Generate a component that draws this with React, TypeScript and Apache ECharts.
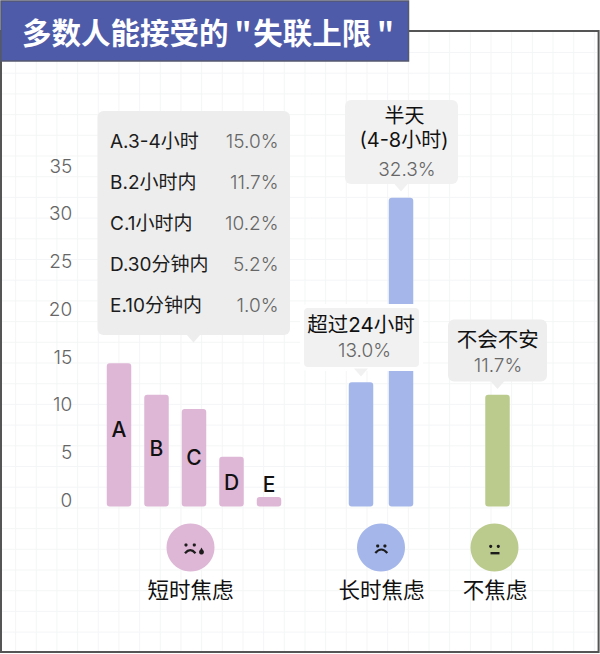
import React, { useEffect, useRef } from "react";
import * as echarts from "echarts";

const shortCategories = ["A", "B", "C", "D", "E"];
const shortValues = [15.0, 11.7, 10.2, 5.2, 1.0];
const longCategories = ["超过24小时", "半天(4-8小时)"];
const longValues = [13.0, 32.3];
const calmCategories = ["不会不安"];
const calmValues = [11.7];
const yTicks = { min: 0, max: 35, step: 5 };
const titleText = '多数人能接受的\u2009"\u200a失联上限\u2009"';
const shortRows = ["A.3-4小时", "B.2小时内", "C.1小时内", "D.30分钟内", "E.10分钟内"];
const shortRowValues = ["15.0%", "11.7%", "10.2%", "5.2%", "1.0%"];
const groupNames = ["短时焦虑", "长时焦虑", "不焦虑"];

const PINK = "#deb7d6";
const BLUE = "#a5b7ea";
const GREEN = "#bbcb8e";
const LATIN = "Inter, 'Noto Sans CJK SC', sans-serif";
const CJK = "'Noto Sans CJK SC', sans-serif";
const THIN = 300;
const GREY = "#666666";

const txt = (text: string, x: number, y: number, size: number, fill: string, align = "center", weight: any = 400, family = LATIN) => ({
  type: "text",
  z: 20,
  style: { text, x, y, align, verticalAlign: "middle", fontSize: size, fontWeight: weight, fontFamily: family, fill },
});

const callout = (x: number, y: number, w: number, h: number, tipX: number, fill: string, halo = 0) => [
  {
    type: "rect",
    z: 10,
    shape: { x, y, width: w, height: h, r: 6 },
    style: { fill, stroke: halo ? "#ffffff" : undefined, lineWidth: halo },
  },
  {
    type: "polygon",
    z: 11,
    shape: { points: [[tipX - 7, y + h - 0.5], [tipX + 7, y + h - 0.5], [tipX, y + h + 7.5]] },
    style: { fill },
  },
];

const paperLines = () => {
  const out: any[] = [];
  for (let i = 0; i < 29; i++) {
    const x = 15.6 + i * 20.67;
    out.push({ type: "line", z: 0, shape: { x1: x, y1: 32, x2: x, y2: 651 }, style: { stroke: "#f4f5f6", lineWidth: 1 } });
  }
  for (let i = 0; i < 29; i++) {
    const y = 52.5 + i * 20.7;
    if (y > 650) break;
    out.push({ type: "line", z: 0, shape: { x1: 2, y1: y, x2: 597, y2: y }, style: { stroke: "#f4f5f6", lineWidth: 1 } });
  }
  return out;
};

const dot = (cx: number, cy: number, r = 1.6) => ({ type: "circle", z: 12, shape: { cx, cy, r }, style: { fill: "#1c1c1c" } });
const frown = (x1: number, x2: number, y1: number, top: number) => ({
  type: "bezierCurve",
  z: 12,
  shape: { x1, y1, x2, y2: y1, cpx1: (x1 + x2) / 2, cpy1: top - (y1 - top) },
  style: { stroke: "#1c1c1c", lineWidth: 2.2, fill: "none" },
});

const faces = () => [
  { type: "circle", z: 5, shape: { cx: 190.5, cy: 547.5, r: 24 }, style: { fill: PINK } },
  { type: "circle", z: 5, shape: { cx: 381, cy: 547.5, r: 24 }, style: { fill: BLUE } },
  { type: "circle", z: 5, shape: { cx: 494.5, cy: 547.5, r: 24 }, style: { fill: GREEN } },
  dot(186, 545), dot(194.3, 545),
  frown(185, 195.5, 553.3, 550.2),
  { type: "circle", z: 12, shape: { cx: 201.5, cy: 552.2, r: 2.4 }, style: { fill: "#1c1c1c" } },
  { type: "polygon", z: 12, shape: { points: [[199.4, 551.5], [203.6, 551.5], [201.5, 547.6]] }, style: { fill: "#1c1c1c" } },
  dot(377.7, 546), dot(384.9, 546),
  frown(375.3, 387.3, 553, 549.5),
  dot(490.7, 546.3), dot(498.3, 546.3),
  { type: "rect", z: 12, shape: { x: 490.5, y: 552, width: 9, height: 2.4 }, style: { fill: "#1c1c1c" } },
];

export default function App() {
  const ref = useRef<HTMLDivElement>(null);
  useEffect(() => {
    const chart = echarts.init(ref.current!, null, { renderer: "svg" });
    const rowYs = [141.5, 182, 223, 264, 305];
    const bar = (name: string, values: number[], color: string, idx: number) => ({
      type: "bar",
      name,
      xAxisIndex: idx,
      yAxisIndex: idx,
      barWidth: 24.5,
      itemStyle: { color, borderRadius: 3 },
      data: values,
      z: 2,
    });
    const letterStyle = { fontSize: 21, fontWeight: 500, fontFamily: LATIN, color: "#111111" };
    const letterOffsets = [-5, -2, 0, 1, 3];
    chart.setOption({
      animation: false,
      backgroundColor: "#ffffff",
      grid: [
        { left: 100.25, width: 187.5, top: 172, height: 334.5 },
        { left: 341, width: 80, top: 172, height: 334.5 },
        { left: 477.5, width: 40, top: 172, height: 334.5 },
      ],
      xAxis: [shortCategories, longCategories, calmCategories].map((data, gridIndex) => ({
        type: "category",
        gridIndex,
        data,
        show: false,
      })),
      yAxis: [0, 1, 2].map((gridIndex) => ({
        type: "value",
        gridIndex,
        min: yTicks.min,
        max: yTicks.max,
        interval: yTicks.step,
        show: gridIndex === 0,
        axisLine: { show: false },
        axisTick: { show: false },
        splitLine: { show: false },
        axisLabel: {
          margin: 28,
          fontSize: 19,
          fontWeight: THIN,
          fontFamily: LATIN,
          color: GREY,
          verticalAlign: "bottom",
          lineHeight: 12,
        },
      })),
      series: [
        {
          ...bar("短时焦虑", [], PINK, 0),
          data: shortValues.map((value, i) => ({
            value,
            label: {
              show: true,
              formatter: shortCategories[i],
              position: value < 2 ? "top" : "inside",
              offset: [0, letterOffsets[i]],
              ...letterStyle,
            },
          })),
        },
        bar("长时焦虑", longValues, BLUE, 1),
        bar("不焦虑", calmValues, GREEN, 2),
      ],
      graphic: [
        ...paperLines(),
        { type: "rect", z: 1, shape: { x: 1, y: 31, width: 597.6, height: 621 }, style: { fill: "none", stroke: "#555555", lineWidth: 2 } },
        { type: "rect", z: 15, shape: { x: 1, y: 1, width: 407.5, height: 60 }, style: { fill: "#4e5ba9", stroke: "#555a70", lineWidth: 1.5 } },
        txt(titleText, 22, 31, 29.5, "#ffffff", "left", 700, CJK),
        ...callout(97.5, 111, 192.5, 224, 193.5, "#ededed"),
        ...shortRows.map((t, i) => txt(t, 110, rowYs[i], 19, "#1c1c1c", "left")),
        ...shortRowValues.map((t, i) => txt(t, 278.5, rowYs[i], 19, GREY, "right", THIN)),
        ...callout(345, 100, 113, 84, 401, "#f1f1f1"),
        txt("半天", 404.5, 116, 20, "#111111"),
        txt("(4-8小时)", 404, 139.5, 20, "#111111"),
        txt("32.3%", 407, 169, 19, GREY, "center", THIN),
        ...callout(302, 306, 119, 63, 361, "#f1f1f1", 4),
        txt("超过24小时", 361, 324, 20.5, "#111111"),
        txt("13.0%", 364.5, 350, 19, GREY, "center", THIN),
        ...callout(448, 319.5, 99, 62, 497.5, "#eeeeee"),
        txt("不会不安", 497.7, 339, 20.5, "#111111"),
        txt("11.7%", 498, 365, 19, GREY, "center", THIN),
        ...faces(),
        txt(groupNames[0], 190.5, 590, 21.5, "#111111"),
        txt(groupNames[1], 381.5, 590, 21.5, "#111111"),
        txt(groupNames[2], 495, 590, 21.5, "#111111"),
      ],
    });
    return () => chart.dispose();
  }, []);
  return <div ref={ref} style={{ position: "absolute", left: 0, top: 0, width: 600, height: 654 }} />;
}
